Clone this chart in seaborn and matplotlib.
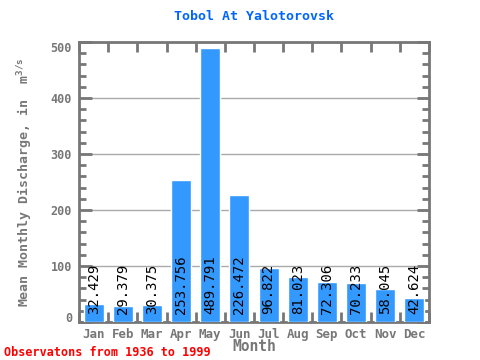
import matplotlib
matplotlib.use("Agg")
import matplotlib.pyplot as plt
import matplotlib.transforms as mtransforms
import seaborn as sns
import pandas as pd
from matplotlib.ticker import MultipleLocator, FixedLocator

months = ["Jan", "Feb", "Mar", "Apr", "May", "Jun", "Jul", "Aug", "Sep", "Oct", "Nov", "Dec"]
values = [32.429, 29.379, 30.375, 253.756, 489.791, 226.472, 96.822, 81.023, 72.306, 70.233, 58.045, 42.624]
labels = ["32.429", "29.379", "30.375", "253.756", "489.791", "226.472", "96.822", "81.023", "72.306", "70.233", "58.045", "42.624"]

sns.set_style("white")
plt.rcParams['font.family'] = ['DejaVu Sans Mono']
plt.rcParams['mathtext.default'] = 'regular'

df = pd.DataFrame({"Month": months, "Discharge": values})

fig = plt.figure(figsize=(4.8, 3.6), dpi=100)
ax = fig.add_axes([79/480, 1 - 322/360, 350/480, 280/360])

sns.barplot(data=df, x="Month", y="Discharge", color="#3399ff", saturation=1,
            width=0.69, ax=ax, zorder=3)

ax.set_xlim(-0.5, 11.5)
ax.set_ylim(0, 500)
ax.yaxis.set_major_locator(FixedLocator([0, 100, 200, 300, 400, 500]))
ax.yaxis.set_minor_locator(MultipleLocator(20))
ax.grid(axis="y", which="major", color="#aaaaaa", linewidth=1, zorder=0)
ax.set_axisbelow(True)

gray = "#777777"
for s in ax.spines.values():
    s.set_color(gray)
    s.set_linewidth(2)

ax.tick_params(axis="y", which="both", direction="in", left=True, right=True,
               color=gray, width=2, labelsize=8.5, labelcolor=gray, pad=5)
ax.tick_params(axis="y", which="major", length=9)
ax.tick_params(axis="y", which="minor", length=5)
ax.set_xticks(range(12))
ax.set_xticks([i + 0.5 for i in range(-1, 12)], minor=True)
ax.tick_params(axis="x", which="major", length=0, labelsize=9, labelcolor=gray, pad=4)
ax.tick_params(axis="x", which="minor", direction="in", length=7, width=2, color=gray,
               top=True, bottom=True)
for t in ax.get_xticklabels() + ax.get_yticklabels():
    t.set_fontweight("bold")

fig.canvas.draw()
ylabels = ax.get_yticklabels()
ylabels[0].set_transform(ylabels[0].get_transform() +
                         mtransforms.ScaledTranslation(0, 5 / 100, fig.dpi_scale_trans))
ylabels[-1].set_transform(ylabels[-1].get_transform() +
                          mtransforms.ScaledTranslation(0, -5 / 100, fig.dpi_scale_trans))

for i, (v, lab) in enumerate(zip(values, labels)):
    ax.text(i, 15, lab, rotation=90, ha="center", va="bottom", fontsize=10,
            color="black", zorder=4)

ax.set_xlabel("Month", fontsize=10.5, color=gray, fontweight="bold", labelpad=-1)
ax.set_ylabel("Mean Monthly Discharge, in  m$^{3/s}$", fontsize=9.5, color=gray,
              fontweight="bold", labelpad=11)

fig.text(0.5 * (79 + 429) / 480, 1 - 17 / 360, "Tobol At Yalotorovsk", ha="center", va="center",
         fontsize=9.5, color="#0066ff", fontweight="bold")
fig.text(4 / 480, 1 - 352 / 360, "Observatons from 1936 to 1999", ha="left", va="center",
         fontsize=8.5, color="#ff0000", fontweight="bold")

fig.savefig("out.png", dpi=100)
